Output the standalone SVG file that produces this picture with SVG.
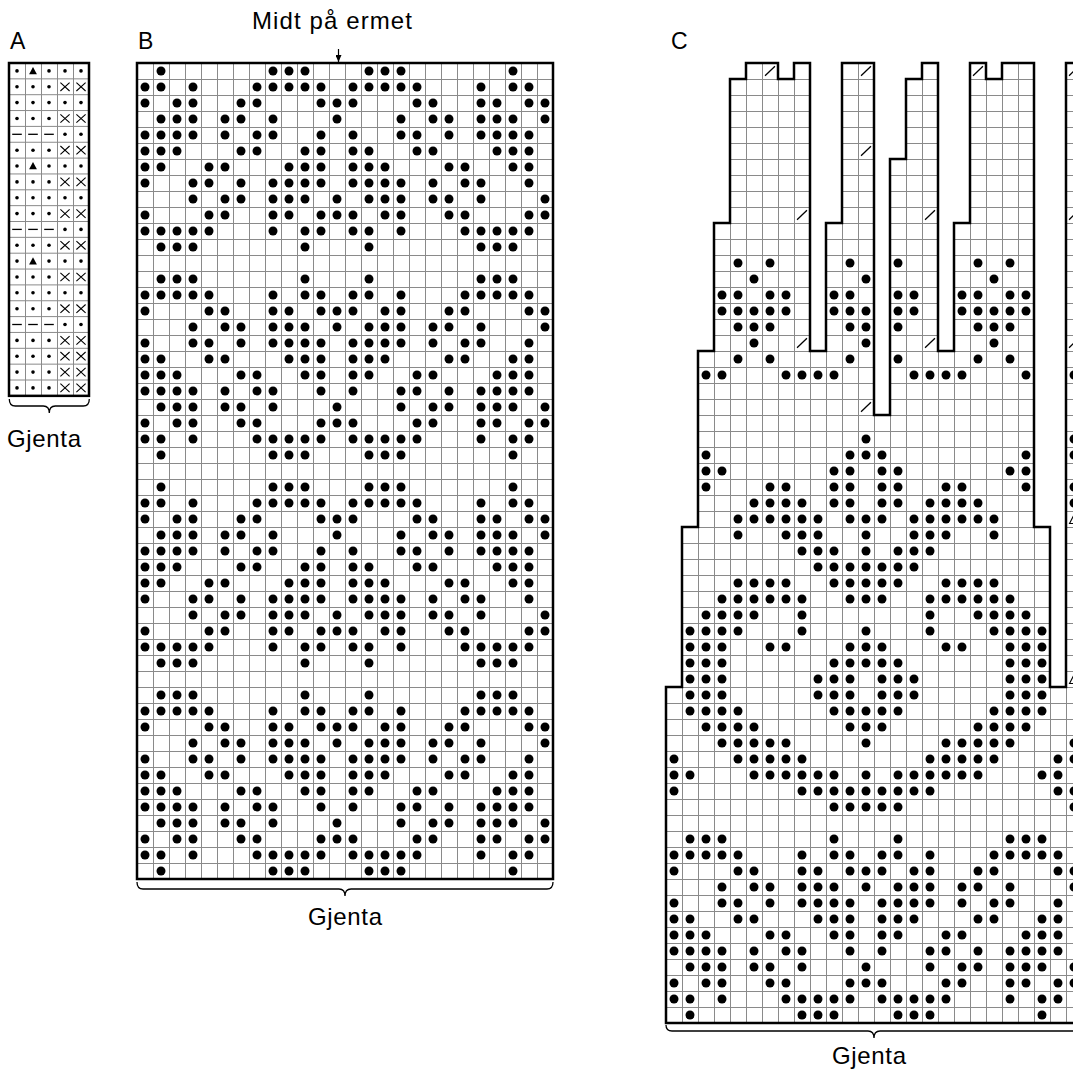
<svg xmlns="http://www.w3.org/2000/svg" width="1073" height="1072" viewBox="0 0 1073 1072">
<style>
text{font-family:"Liberation Sans",Arial,sans-serif;fill:#000}
.lbl{font-size:23px}
.big{font-size:24px}
.thick{fill:none;stroke:#000;stroke-width:2.5;stroke-linejoin:miter}
.grid{stroke:#8a8a8a;stroke-width:1;fill:none}
.brace{fill:none;stroke:#000;stroke-width:1.3}
</style>
<defs>
<circle id="d" cx=".5" cy=".5" r=".28"/>
<path id="sl" d="M.19 .8L.81 .2" stroke="#000" stroke-width=".08" fill="none"/>
<path id="ot" d="M.22 .78L.5 .24L.78 .78Z" stroke="#000" stroke-width=".07" fill="none"/>
<circle id="ad" r="1.8"/>
<path id="tr" d="M-3.9 3.3L0 -3.9L3.9 3.3Z"/>
<path id="xx" d="M-4.6 -4.2L4.6 4.2M-4.6 4.2L4.6 -4.2" stroke="#000" stroke-width="1.1" fill="none"/>
<path id="da" d="M-4.8 0H4.8" stroke="#000" stroke-width="1.3"/>
<g id="aT"><use href="#ad" x="17"/><use href="#tr" x="33"/><use href="#ad" x="49"/><use href="#ad" x="65"/><use href="#ad" x="81"/></g>
<g id="aX"><use href="#ad" x="17"/><use href="#ad" x="33"/><use href="#ad" x="49"/><use href="#xx" x="65"/><use href="#xx" x="81"/></g>
<g id="aD"><use href="#ad" x="17"/><use href="#ad" x="33"/><use href="#ad" x="49"/><use href="#ad" x="65"/><use href="#ad" x="81"/></g>
<g id="aM"><use href="#da" x="17"/><use href="#da" x="33"/><use href="#da" x="49"/><use href="#ad" x="65"/><use href="#ad" x="81"/></g>
<pattern id="gb" x="137" y="63" width="16" height="16" patternUnits="userSpaceOnUse"><rect width="16" height="16" fill="#fff"/><path d="M.5 0V16M0 .5H16" class="grid"/></pattern>
<pattern id="gc" x="666" y="63" width="16" height="16" patternUnits="userSpaceOnUse"><rect width="16" height="16" fill="#fff"/><path d="M.5 0V16M0 .5H16" class="grid"/></pattern>
<marker id="ah" viewBox="0 0 7 6" refX="7" refY="3" markerWidth="7" markerHeight="6" markerUnits="userSpaceOnUse" orient="auto"><path d="M0 0L7 3L0 6Z" fill="#000"/></marker>
<g id="bh">
<g><use href="#d" x="1"/><use href="#d" x="8"/><use href="#d" x="9"/><use href="#d" x="10"/><use href="#d" x="14"/><use href="#d" x="15"/><use href="#d" x="16"/><use href="#d" x="23"/></g>
<g transform="translate(0,1)"><use href="#d" x="0"/><use href="#d" x="1"/><use href="#d" x="3"/><use href="#d" x="7"/><use href="#d" x="8"/><use href="#d" x="9"/><use href="#d" x="10"/><use href="#d" x="11"/><use href="#d" x="13"/><use href="#d" x="14"/><use href="#d" x="15"/><use href="#d" x="16"/><use href="#d" x="17"/><use href="#d" x="21"/><use href="#d" x="23"/><use href="#d" x="24"/></g>
<g transform="translate(0,2)"><use href="#d" x="0"/><use href="#d" x="2"/><use href="#d" x="3"/><use href="#d" x="6"/><use href="#d" x="7"/><use href="#d" x="11"/><use href="#d" x="12"/><use href="#d" x="13"/><use href="#d" x="17"/><use href="#d" x="18"/><use href="#d" x="21"/><use href="#d" x="22"/><use href="#d" x="24"/><use href="#d" x="25"/></g>
<g transform="translate(0,3)"><use href="#d" x="1"/><use href="#d" x="2"/><use href="#d" x="3"/><use href="#d" x="5"/><use href="#d" x="6"/><use href="#d" x="8"/><use href="#d" x="12"/><use href="#d" x="16"/><use href="#d" x="18"/><use href="#d" x="19"/><use href="#d" x="21"/><use href="#d" x="22"/><use href="#d" x="23"/><use href="#d" x="25"/></g>
<g transform="translate(0,4)"><use href="#d" x="0"/><use href="#d" x="1"/><use href="#d" x="2"/><use href="#d" x="3"/><use href="#d" x="5"/><use href="#d" x="7"/><use href="#d" x="8"/><use href="#d" x="11"/><use href="#d" x="13"/><use href="#d" x="16"/><use href="#d" x="17"/><use href="#d" x="19"/><use href="#d" x="21"/><use href="#d" x="22"/><use href="#d" x="23"/><use href="#d" x="24"/></g>
<g transform="translate(0,5)"><use href="#d" x="0"/><use href="#d" x="1"/><use href="#d" x="2"/><use href="#d" x="6"/><use href="#d" x="7"/><use href="#d" x="10"/><use href="#d" x="11"/><use href="#d" x="13"/><use href="#d" x="14"/><use href="#d" x="17"/><use href="#d" x="18"/><use href="#d" x="22"/><use href="#d" x="23"/><use href="#d" x="24"/></g>
<g transform="translate(0,6)"><use href="#d" x="0"/><use href="#d" x="1"/><use href="#d" x="4"/><use href="#d" x="5"/><use href="#d" x="9"/><use href="#d" x="10"/><use href="#d" x="11"/><use href="#d" x="13"/><use href="#d" x="14"/><use href="#d" x="15"/><use href="#d" x="19"/><use href="#d" x="20"/><use href="#d" x="23"/><use href="#d" x="24"/></g>
<g transform="translate(0,7)"><use href="#d" x="0"/><use href="#d" x="3"/><use href="#d" x="4"/><use href="#d" x="6"/><use href="#d" x="8"/><use href="#d" x="9"/><use href="#d" x="10"/><use href="#d" x="11"/><use href="#d" x="13"/><use href="#d" x="14"/><use href="#d" x="15"/><use href="#d" x="16"/><use href="#d" x="18"/><use href="#d" x="20"/><use href="#d" x="21"/><use href="#d" x="24"/></g>
<g transform="translate(0,8)"><use href="#d" x="3"/><use href="#d" x="5"/><use href="#d" x="6"/><use href="#d" x="8"/><use href="#d" x="9"/><use href="#d" x="10"/><use href="#d" x="12"/><use href="#d" x="14"/><use href="#d" x="15"/><use href="#d" x="16"/><use href="#d" x="18"/><use href="#d" x="19"/><use href="#d" x="21"/><use href="#d" x="25"/></g>
<g transform="translate(0,9)"><use href="#d" x="0"/><use href="#d" x="4"/><use href="#d" x="5"/><use href="#d" x="8"/><use href="#d" x="9"/><use href="#d" x="11"/><use href="#d" x="12"/><use href="#d" x="13"/><use href="#d" x="15"/><use href="#d" x="16"/><use href="#d" x="19"/><use href="#d" x="20"/><use href="#d" x="24"/><use href="#d" x="25"/></g>
<g transform="translate(0,10)"><use href="#d" x="0"/><use href="#d" x="1"/><use href="#d" x="2"/><use href="#d" x="3"/><use href="#d" x="4"/><use href="#d" x="8"/><use href="#d" x="10"/><use href="#d" x="11"/><use href="#d" x="13"/><use href="#d" x="14"/><use href="#d" x="16"/><use href="#d" x="20"/><use href="#d" x="21"/><use href="#d" x="22"/><use href="#d" x="23"/><use href="#d" x="24"/></g>
<g transform="translate(0,11)"><use href="#d" x="1"/><use href="#d" x="2"/><use href="#d" x="3"/><use href="#d" x="10"/><use href="#d" x="14"/><use href="#d" x="21"/><use href="#d" x="22"/><use href="#d" x="23"/></g>
</g>
</defs>

<g id="chart-A">
<text class="lbl" x="10" y="48.5">A</text>
<rect x="9" y="63" width="80" height="332.85" fill="#fff"/>
<path class="grid" d="M25.5 63V395.85M41.5 63V395.85M57.5 63V395.85M73.5 63V395.85M9 78.85H89M9 94.7H89M9 110.55H89M9 126.4H89M9 142.25H89M9 158.1H89M9 173.95H89M9 189.8H89M9 205.65H89M9 221.5H89M9 237.35H89M9 253.2H89M9 269.05H89M9 284.9H89M9 300.75H89M9 316.6H89M9 332.45H89M9 348.3H89M9 364.15H89M9 380H89"/>
<use href="#aT" y="70.9"/>
<use href="#aX" y="86.8"/>
<use href="#aD" y="102.6"/>
<use href="#aX" y="118.5"/>
<use href="#aM" y="134.3"/>
<use href="#aX" y="150.2"/>
<use href="#aT" y="166"/>
<use href="#aX" y="181.9"/>
<use href="#aD" y="197.7"/>
<use href="#aX" y="213.6"/>
<use href="#aM" y="229.4"/>
<use href="#aX" y="245.3"/>
<use href="#aT" y="261.1"/>
<use href="#aX" y="277"/>
<use href="#aD" y="292.8"/>
<use href="#aX" y="308.7"/>
<use href="#aM" y="324.5"/>
<use href="#aX" y="340.4"/>
<use href="#aX" y="356.2"/>
<use href="#aX" y="372.1"/>
<use href="#aX" y="387.9"/>
<rect x="9" y="63" width="80" height="332.85" class="thick"/>
<path class="brace" d="M9.3 399Q9.3 406 15.3 406H43.3Q49.3 406 49.3 413Q49.3 406 55.3 406H83.3Q89.3 406 89.3 399"/>
<text class="big" x="7" y="446.5" textLength="74">Gjenta</text>
</g>

<g id="chart-B">
<text class="lbl" x="138" y="48.5">B</text>
<text class="big" x="252" y="28.5" textLength="160">Midt på ermet</text>
<rect x="137" y="63" width="416" height="816" fill="url(#gb)"/>
<g transform="translate(137,63) scale(16)">
<use href="#bh"/>
<use href="#bh" transform="matrix(1 0 0 -1 0 25)"/>
<use href="#bh" y="26"/>
<use href="#bh" transform="matrix(1 0 0 -1 0 51)"/>
</g>
<rect x="137" y="63" width="416" height="816" class="thick"/>
<path class="brace" d="M137 882Q137 889 143 889H339Q345 889 345 896Q345 889 351 889H547Q553 889 553 882"/>
<text class="big" x="308" y="925" textLength="74">Gjenta</text>
</g>

<g id="chart-C">
<text class="lbl" x="671" y="48.5">C</text>
<path d="M666 1023V687H682V527H698V351H714V223H730V79H746V63H778V79H794V63H810V351H826V223H842V63H874V415H890V159H906V79H922V63H938V351H954V223H970V63H986V79H1002V63H1034V527H1050V687H1066V63H1100V1023Z" fill="url(#gc)"/>
<g transform="translate(666,63) scale(16)">
<use href="#bh" transform="matrix(1 0 0 -1 0 60)"/>
<g transform="translate(0,12)"><use href="#d" x="4"/><use href="#d" x="6"/><use href="#d" x="11"/><use href="#d" x="14"/><use href="#d" x="19"/><use href="#d" x="21"/></g>
<g transform="translate(0,13)"><use href="#d" x="5"/><use href="#d" x="12"/><use href="#d" x="20"/></g>
<g transform="translate(0,14)"><use href="#d" x="3"/><use href="#d" x="4"/><use href="#d" x="6"/><use href="#d" x="7"/><use href="#d" x="10"/><use href="#d" x="11"/><use href="#d" x="14"/><use href="#d" x="15"/><use href="#d" x="18"/><use href="#d" x="19"/><use href="#d" x="21"/><use href="#d" x="22"/></g>
<g transform="translate(0,15)"><use href="#d" x="3"/><use href="#d" x="4"/><use href="#d" x="5"/><use href="#d" x="6"/><use href="#d" x="7"/><use href="#d" x="10"/><use href="#d" x="11"/><use href="#d" x="12"/><use href="#d" x="14"/><use href="#d" x="15"/><use href="#d" x="18"/><use href="#d" x="19"/><use href="#d" x="20"/><use href="#d" x="21"/><use href="#d" x="22"/></g>
<g transform="translate(0,16)"><use href="#d" x="4"/><use href="#d" x="5"/><use href="#d" x="6"/><use href="#d" x="11"/><use href="#d" x="12"/><use href="#d" x="14"/><use href="#d" x="19"/><use href="#d" x="20"/><use href="#d" x="21"/></g>
<g transform="translate(0,17)"><use href="#d" x="5"/><use href="#d" x="12"/><use href="#d" x="20"/></g>
<g transform="translate(0,18)"><use href="#d" x="4"/><use href="#d" x="6"/><use href="#d" x="11"/><use href="#d" x="14"/><use href="#d" x="19"/><use href="#d" x="21"/></g>
<g transform="translate(0,19)"><use href="#d" x="2"/><use href="#d" x="3"/><use href="#d" x="7"/><use href="#d" x="8"/><use href="#d" x="9"/><use href="#d" x="10"/><use href="#d" x="15"/><use href="#d" x="16"/><use href="#d" x="17"/><use href="#d" x="18"/><use href="#d" x="22"/><use href="#d" x="25"/></g>
<g transform="translate(0,23)"><use href="#d" x="12"/><use href="#d" x="25"/></g>
<g transform="translate(0,24)"><use href="#d" x="2"/><use href="#d" x="11"/><use href="#d" x="12"/><use href="#d" x="13"/><use href="#d" x="22"/><use href="#d" x="25"/></g>
<g transform="translate(0,25)"><use href="#d" x="2"/><use href="#d" x="3"/><use href="#d" x="10"/><use href="#d" x="11"/><use href="#d" x="13"/><use href="#d" x="14"/><use href="#d" x="21"/><use href="#d" x="22"/></g>
<g transform="translate(0,26)"><use href="#d" x="2"/><use href="#d" x="6"/><use href="#d" x="7"/><use href="#d" x="10"/><use href="#d" x="11"/><use href="#d" x="13"/><use href="#d" x="14"/><use href="#d" x="17"/><use href="#d" x="18"/><use href="#d" x="22"/><use href="#d" x="25"/></g>
<g transform="translate(0,27)"><use href="#d" x="5"/><use href="#d" x="6"/><use href="#d" x="7"/><use href="#d" x="8"/><use href="#d" x="10"/><use href="#d" x="11"/><use href="#d" x="13"/><use href="#d" x="14"/><use href="#d" x="16"/><use href="#d" x="17"/><use href="#d" x="18"/><use href="#d" x="19"/><use href="#d" x="25"/></g>
<g transform="translate(0,28)"><use href="#d" x="4"/><use href="#d" x="5"/><use href="#d" x="6"/><use href="#d" x="7"/><use href="#d" x="8"/><use href="#d" x="9"/><use href="#d" x="11"/><use href="#d" x="12"/><use href="#d" x="13"/><use href="#d" x="15"/><use href="#d" x="16"/><use href="#d" x="17"/><use href="#d" x="18"/><use href="#d" x="19"/><use href="#d" x="20"/></g>
<g transform="translate(0,29)"><use href="#d" x="4"/><use href="#d" x="7"/><use href="#d" x="8"/><use href="#d" x="9"/><use href="#d" x="12"/><use href="#d" x="15"/><use href="#d" x="16"/><use href="#d" x="17"/><use href="#d" x="20"/></g>
<g transform="translate(0,30)"><use href="#d" x="8"/><use href="#d" x="9"/><use href="#d" x="10"/><use href="#d" x="12"/><use href="#d" x="14"/><use href="#d" x="15"/><use href="#d" x="16"/></g>
<g transform="translate(0,31)"><use href="#d" x="9"/><use href="#d" x="10"/><use href="#d" x="11"/><use href="#d" x="12"/><use href="#d" x="13"/><use href="#d" x="14"/><use href="#d" x="15"/></g>
<g transform="translate(0,32)"><use href="#d" x="4"/><use href="#d" x="5"/><use href="#d" x="6"/><use href="#d" x="7"/><use href="#d" x="10"/><use href="#d" x="11"/><use href="#d" x="12"/><use href="#d" x="13"/><use href="#d" x="14"/><use href="#d" x="17"/><use href="#d" x="18"/><use href="#d" x="19"/><use href="#d" x="20"/></g>
<g transform="translate(0,33)"><use href="#d" x="3"/><use href="#d" x="4"/><use href="#d" x="5"/><use href="#d" x="6"/><use href="#d" x="7"/><use href="#d" x="8"/><use href="#d" x="11"/><use href="#d" x="12"/><use href="#d" x="13"/><use href="#d" x="16"/><use href="#d" x="17"/><use href="#d" x="18"/><use href="#d" x="19"/><use href="#d" x="20"/><use href="#d" x="21"/></g>
<g transform="translate(0,34)"><use href="#d" x="2"/><use href="#d" x="3"/><use href="#d" x="4"/><use href="#d" x="5"/><use href="#d" x="8"/><use href="#d" x="16"/><use href="#d" x="19"/><use href="#d" x="20"/><use href="#d" x="21"/><use href="#d" x="22"/></g>
<g transform="translate(0,35)"><use href="#d" x="1"/><use href="#d" x="2"/><use href="#d" x="3"/><use href="#d" x="4"/><use href="#d" x="8"/><use href="#d" x="12"/><use href="#d" x="16"/><use href="#d" x="20"/><use href="#d" x="21"/><use href="#d" x="22"/><use href="#d" x="23"/></g>
<g transform="translate(0,36)"><use href="#d" x="1"/><use href="#d" x="2"/><use href="#d" x="3"/><use href="#d" x="6"/><use href="#d" x="7"/><use href="#d" x="11"/><use href="#d" x="12"/><use href="#d" x="13"/><use href="#d" x="17"/><use href="#d" x="18"/><use href="#d" x="21"/><use href="#d" x="22"/><use href="#d" x="23"/></g>
<g transform="translate(0,37)"><use href="#d" x="1"/><use href="#d" x="2"/><use href="#d" x="3"/><use href="#d" x="10"/><use href="#d" x="11"/><use href="#d" x="12"/><use href="#d" x="13"/><use href="#d" x="14"/><use href="#d" x="21"/><use href="#d" x="22"/><use href="#d" x="23"/></g>
<g transform="translate(0,38)"><use href="#d" x="1"/><use href="#d" x="2"/><use href="#d" x="3"/><use href="#d" x="9"/><use href="#d" x="10"/><use href="#d" x="11"/><use href="#d" x="13"/><use href="#d" x="14"/><use href="#d" x="15"/><use href="#d" x="21"/><use href="#d" x="22"/><use href="#d" x="23"/></g>
<g transform="translate(0,39)"><use href="#d" x="1"/><use href="#d" x="2"/><use href="#d" x="3"/><use href="#d" x="9"/><use href="#d" x="10"/><use href="#d" x="11"/><use href="#d" x="13"/><use href="#d" x="14"/><use href="#d" x="15"/><use href="#d" x="21"/><use href="#d" x="22"/><use href="#d" x="23"/></g>
<g transform="translate(0,40)"><use href="#d" x="1"/><use href="#d" x="2"/><use href="#d" x="3"/><use href="#d" x="4"/><use href="#d" x="10"/><use href="#d" x="11"/><use href="#d" x="12"/><use href="#d" x="13"/><use href="#d" x="14"/><use href="#d" x="20"/><use href="#d" x="21"/><use href="#d" x="22"/><use href="#d" x="23"/></g>
<g transform="translate(0,41)"><use href="#d" x="2"/><use href="#d" x="3"/><use href="#d" x="4"/><use href="#d" x="5"/><use href="#d" x="11"/><use href="#d" x="12"/><use href="#d" x="13"/><use href="#d" x="19"/><use href="#d" x="20"/><use href="#d" x="21"/><use href="#d" x="22"/></g>
<g transform="translate(0,42)"><use href="#d" x="3"/><use href="#d" x="4"/><use href="#d" x="5"/><use href="#d" x="6"/><use href="#d" x="7"/><use href="#d" x="12"/><use href="#d" x="17"/><use href="#d" x="18"/><use href="#d" x="19"/><use href="#d" x="20"/><use href="#d" x="21"/><use href="#d" x="25"/></g>
<g transform="translate(0,43)"><use href="#d" x="0"/><use href="#d" x="4"/><use href="#d" x="5"/><use href="#d" x="6"/><use href="#d" x="7"/><use href="#d" x="8"/><use href="#d" x="16"/><use href="#d" x="17"/><use href="#d" x="18"/><use href="#d" x="19"/><use href="#d" x="20"/><use href="#d" x="24"/><use href="#d" x="25"/></g>
<g transform="translate(0,44)"><use href="#d" x="0"/><use href="#d" x="1"/><use href="#d" x="5"/><use href="#d" x="6"/><use href="#d" x="7"/><use href="#d" x="8"/><use href="#d" x="9"/><use href="#d" x="10"/><use href="#d" x="12"/><use href="#d" x="14"/><use href="#d" x="15"/><use href="#d" x="16"/><use href="#d" x="17"/><use href="#d" x="18"/><use href="#d" x="19"/><use href="#d" x="23"/><use href="#d" x="24"/></g>
<g transform="translate(0,45)"><use href="#d" x="0"/><use href="#d" x="8"/><use href="#d" x="9"/><use href="#d" x="10"/><use href="#d" x="11"/><use href="#d" x="12"/><use href="#d" x="13"/><use href="#d" x="14"/><use href="#d" x="15"/><use href="#d" x="16"/><use href="#d" x="24"/><use href="#d" x="25"/></g>
<g transform="translate(0,46)"><use href="#d" x="10"/><use href="#d" x="11"/><use href="#d" x="12"/><use href="#d" x="13"/><use href="#d" x="14"/><use href="#d" x="25"/></g>
<use href="#sl" x="6" y="0"/><use href="#sl" x="12" y="0"/><use href="#sl" x="19" y="0"/><use href="#sl" x="25" y="0"/>
<use href="#sl" x="12" y="5"/>
<use href="#sl" x="8" y="9"/><use href="#sl" x="16" y="9"/><use href="#sl" x="25" y="9"/>
<use href="#sl" x="8" y="17"/><use href="#sl" x="16" y="17"/><use href="#sl" x="25" y="17"/>
<use href="#sl" x="12" y="21"/>
<use href="#ot" x="25" y="28"/><use href="#ot" x="25" y="38"/>
</g>
<path d="M666 1023V687H682V527H698V351H714V223H730V79H746V63H778V79H794V63H810V351H826V223H842V63H874V415H890V159H906V79H922V63H938V351H954V223H970V63H986V79H1002V63H1034V527H1050V687H1066V63H1100V1023Z" class="thick"/>
<path class="brace" d="M666 1025Q666 1031 672 1031H868Q874 1031 874 1038Q874 1031 880 1031H1076Q1082 1031 1082 1025"/>
<text class="big" x="832" y="1064" textLength="74">Gjenta</text>
</g>

<g id="connectors">
<path d="M338.5 49V62" stroke="#000" stroke-width="1.2" fill="none" marker-end="url(#ah)"/>
</g>
</svg>
